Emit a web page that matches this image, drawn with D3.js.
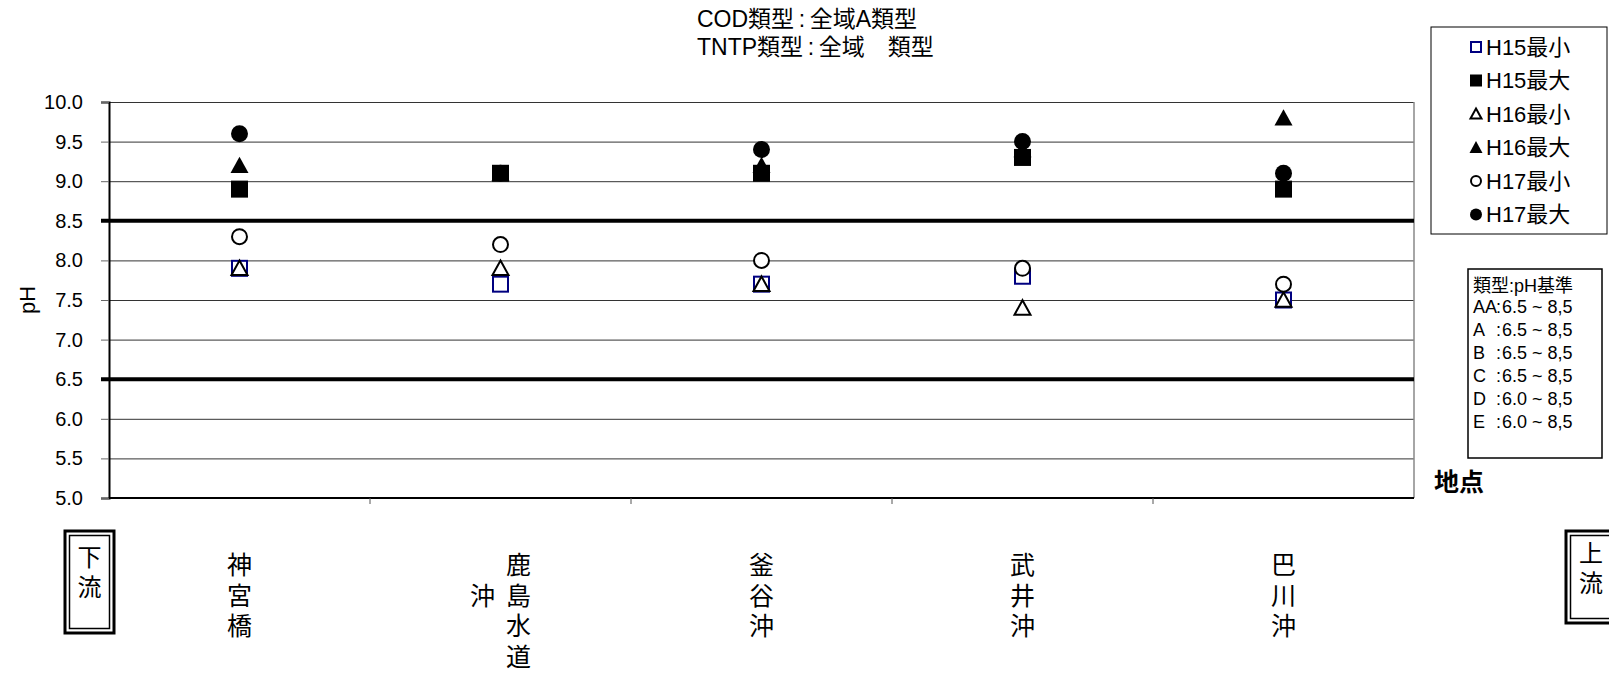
<!DOCTYPE html>
<html>
<head>
<meta charset="utf-8">
<script src="https://cdn.jsdelivr.net/npm/d3@7"></script>
<style>
  body { margin: 0; background: #fff; }
  svg { display: block; }
  text { font-family: "Liberation Sans", "Noto Sans CJK JP", sans-serif; fill: #000; }
</style>
</head>
<body>
<div id="chart"></div>
<script>
// sampling sites, downstream -> upstream
const sites = ["神宮橋", "鹿島水道沖", "釜谷沖", "武井沖", "巴川沖"];
// vertical label columns (right to left), a full-width space pushes a char down one row
const siteColumns = [["神宮橋"], ["鹿島水道", "　沖"], ["釜谷沖"], ["武井沖"], ["巴川沖"]];

const seriesNames = ["H15最小", "H15最大", "H16最小", "H16最大", "H17最小", "H17最大"];
const h15Min = [7.9, 7.7, 7.7, 7.8, 7.5];
const h15Max = [8.9, 9.1, 9.1, 9.3, 8.9];
const h16Min = [7.9, 7.9, 7.7, 7.4, 7.5];
const h16Max = [9.2, 9.1, 9.2, 9.4, 9.8];
const h17Min = [8.3, 8.2, 8.0, 7.9, 7.7];
const h17Max = [9.6, 9.1, 9.4, 9.5, 9.1];

const yTicks = [5.0, 5.5, 6.0, 6.5, 7.0, 7.5, 8.0, 8.5, 9.0, 9.5, 10.0];
const limitLines = [8.5, 6.5];

const titleLines = ["COD類型\u2009:\u2009全域A類型", "TNTP類型\u2009:\u2009全域　類型"];
const standardHeader = "類型:pH基準";
const standardClasses = ["AA", "A", "B", "C", "D", "E"];
const standardRanges = ["6.5 ~ 8,5", "6.5 ~ 8,5", "6.5 ~ 8,5", "6.5 ~ 8,5", "6.0 ~ 8,5", "6.0 ~ 8,5"];

const width = 1609;
const height = 678;
const margin = {top: 102, right: 195, bottom: 180, left: 109};
const plotRight = width - margin.right;
const plotBottom = height - margin.bottom;

// marker style per series
const markerStyles = [
  {shape: 'square', fill: '#fff', stroke: '#000080'},
  {shape: 'square', fill: '#000', stroke: null},
  {shape: 'triangle', fill: '#fff', stroke: '#000'},
  {shape: 'triangle', fill: '#000', stroke: null},
  {shape: 'circle', fill: '#fff', stroke: '#000'},
  {shape: 'circle', fill: '#000', stroke: null}
];
const seriesValues = [h15Min, h15Max, h16Min, h16Max, h17Min, h17Max];

const svg = d3.select('#chart')
  .append('svg')
  .attr('width', width)
  .attr('height', height)
  .attr('viewBox', `0 0 ${width} ${height}`);

const x = d3.scaleBand()
  .domain(sites)
  .range([margin.left, plotRight]);

const y = d3.scaleLinear()
  .domain([5, 10])
  .range([plotBottom, margin.top]);

// draws one marker centred on 0,0 inside g
function drawMarker(g, style, size) {
  let sw = style.stroke ? 2 : 0;
  let s = size - sw;
  if (style.shape === 'square') {
    g.append('rect')
      .attr('x', -s / 2).attr('y', -s / 2)
      .attr('width', s).attr('height', s);
  } else if (style.shape === 'circle') {
    g.append('circle').attr('r', s / 2);
  } else {
    let h = s * 0.9;
    g.append('path')
      .attr('d', `M0,${-h / 2 - 1}L${s / 2 + 0.5},${h / 2}L${-s / 2 - 0.5},${h / 2}Z`)
      .attr('stroke-linejoin', 'miter');
  }
  g.selectAll('*')
    .attr('fill', style.fill)
    .attr('stroke', style.stroke || 'none')
    .attr('stroke-width', sw);
}

// title (left aligned text box)
svg.append('g')
  .selectAll('text')
  .data(titleLines)
  .enter()
  .append('text')
  .attr('x', 697)
  .attr('y', (d, i) => 27 + i * 28)
  .style('font-size', '23px')
  .text(d => d);

// grid
svg.append('g')
  .attr('transform', `translate(${margin.left},0)`)
  .call(d3.axisLeft(y).tickValues(yTicks).tickSize(-(plotRight - margin.left)).tickFormat(''))
  .call(g => g.select('.domain').remove())
  .call(g => g.selectAll('line').attr('stroke', '#333').attr('stroke-width', 1));

// right border of the plot
svg.append('line')
  .attr('x1', plotRight).attr('x2', plotRight)
  .attr('y1', margin.top).attr('y2', plotBottom)
  .attr('stroke', '#888').attr('stroke-width', 1.5);

// y axis
svg.append('g')
  .attr('transform', `translate(${margin.left},0)`)
  .call(d3.axisLeft(y).tickValues(yTicks).tickSize(8).tickPadding(18).tickFormat(d3.format('.1f')))
  .call(g => g.select('.domain').attr('stroke', '#000').attr('stroke-width', 2))
  .call(g => g.selectAll('.tick line').attr('stroke', '#666'))
  .call(g => g.selectAll('.tick text')
    .style('font-size', '20px')
    .attr('font-family', null));

svg.append('text')
  .attr('transform', `translate(35,${(margin.top + plotBottom) / 2}) rotate(-90)`)
  .attr('text-anchor', 'middle')
  .style('font-size', '22px')
  .text('pH');

// x axis: line plus ticks on band boundaries
svg.append('line')
  .attr('x1', margin.left).attr('x2', plotRight)
  .attr('y1', plotBottom).attr('y2', plotBottom)
  .attr('stroke', '#000').attr('stroke-width', 2);

svg.append('g')
  .selectAll('line')
  .data(sites.slice(1))
  .enter()
  .append('line')
  .attr('x1', d => x(d)).attr('x2', d => x(d))
  .attr('y1', plotBottom).attr('y2', plotBottom + 6)
  .attr('stroke', '#555');

// pH standard limits
svg.append('g')
  .selectAll('line')
  .data(limitLines)
  .enter()
  .append('line')
  .attr('x1', margin.left - 8).attr('x2', plotRight)
  .attr('y1', d => y(d)).attr('y2', d => y(d))
  .attr('stroke', '#000').attr('stroke-width', 4);

// site labels, vertical
const labelGroups = svg.append('g')
  .selectAll('g')
  .data(sites)
  .enter()
  .append('g');

labelGroups.each(function (site, i) {
  let cols = siteColumns[i];
  let cx = x(site) + x.bandwidth() / 2;
  let colGap = 36;
  cols.forEach((col, c) => {
    let colX = cx + ((cols.length - 1) / 2 - c) * colGap;
    Array.from(col).forEach((ch, r) => {
      d3.select(this).append('text')
        .attr('x', colX)
        .attr('y', 565 + r * 30.5)
        .attr('text-anchor', 'middle')
        .attr('dominant-baseline', 'central')
        .style('font-size', '25px')
        .text(ch);
    });
  });
});

// markers
seriesValues.forEach((values, s) => {
  svg.append('g')
    .selectAll('g')
    .data(values)
    .enter()
    .append('g')
    .attr('transform', (d, i) => `translate(${x(sites[i]) + x.bandwidth() / 2},${y(d)})`)
    .each(function () {
      drawMarker(d3.select(this), markerStyles[s], 17);
    });
});

// legend
svg.append('rect')
  .attr('x', 1431).attr('y', 27)
  .attr('width', 176).attr('height', 207)
  .attr('fill', '#fff').attr('stroke', '#000').attr('stroke-width', 1);

const legendItems = svg.append('g')
  .selectAll('g')
  .data(seriesNames)
  .enter()
  .append('g')
  .attr('transform', (d, i) => `translate(1476,${47 + i * 33.5})`);

legendItems.each(function (d, i) {
  let g = d3.select(this).append('g');
  drawMarker(g, markerStyles[i], 12);
});

legendItems.append('text')
  .attr('x', 10)
  .attr('dominant-baseline', 'central')
  .style('font-size', '22px')
  .text(d => d);

// pH standard box
svg.append('rect')
  .attr('x', 1468).attr('y', 269)
  .attr('width', 134).attr('height', 189)
  .attr('fill', '#fff').attr('stroke', '#000').attr('stroke-width', 1.5);

svg.append('text')
  .attr('x', 1473).attr('y', 286)
  .attr('dominant-baseline', 'central')
  .style('font-size', '18px')
  .text(standardHeader);

const standardRows = svg.append('g')
  .selectAll('g')
  .data(standardClasses)
  .enter()
  .append('g')
  .attr('transform', (d, i) => `translate(0,${307 + i * 23})`);

standardRows.append('text')
  .attr('x', 1473)
  .attr('dominant-baseline', 'central')
  .style('font-size', '18px')
  .text(d => d);

standardRows.append('text')
  .attr('x', 1496)
  .attr('dominant-baseline', 'central')
  .style('font-size', '18px')
  .text(':');

standardRows.append('text')
  .attr('x', 1502)
  .attr('dominant-baseline', 'central')
  .style('font-size', '18px')
  .text((d, i) => standardRanges[i]);

svg.append('text')
  .attr('x', 1434).attr('y', 482)
  .attr('dominant-baseline', 'central')
  .style('font-size', '25px')
  .style('font-weight', 'bold')
  .text('地点');

// downstream / upstream boxes
function flowBox(bx, by, bw, bh, chars, ty) {
  let g = svg.append('g');
  g.append('rect')
    .attr('x', bx).attr('y', by).attr('width', bw).attr('height', bh)
    .attr('fill', '#fff').attr('stroke', '#000').attr('stroke-width', 3);
  g.append('rect')
    .attr('x', bx + 4.5).attr('y', by + 4.5).attr('width', bw - 9).attr('height', bh - 9)
    .attr('fill', 'none').attr('stroke', '#000').attr('stroke-width', 1.5);
  g.selectAll('text')
    .data(Array.from(chars))
    .enter()
    .append('text')
    .attr('x', bx + bw / 2)
    .attr('y', (d, i) => ty + i * 30.5)
    .attr('text-anchor', 'middle')
    .attr('dominant-baseline', 'central')
    .style('font-size', '24px')
    .text(d => d);
}

flowBox(65, 531, 49, 102, '下流', 557);
flowBox(1566, 531, 50, 92, '上流', 553);
</script>
</body>
</html>
